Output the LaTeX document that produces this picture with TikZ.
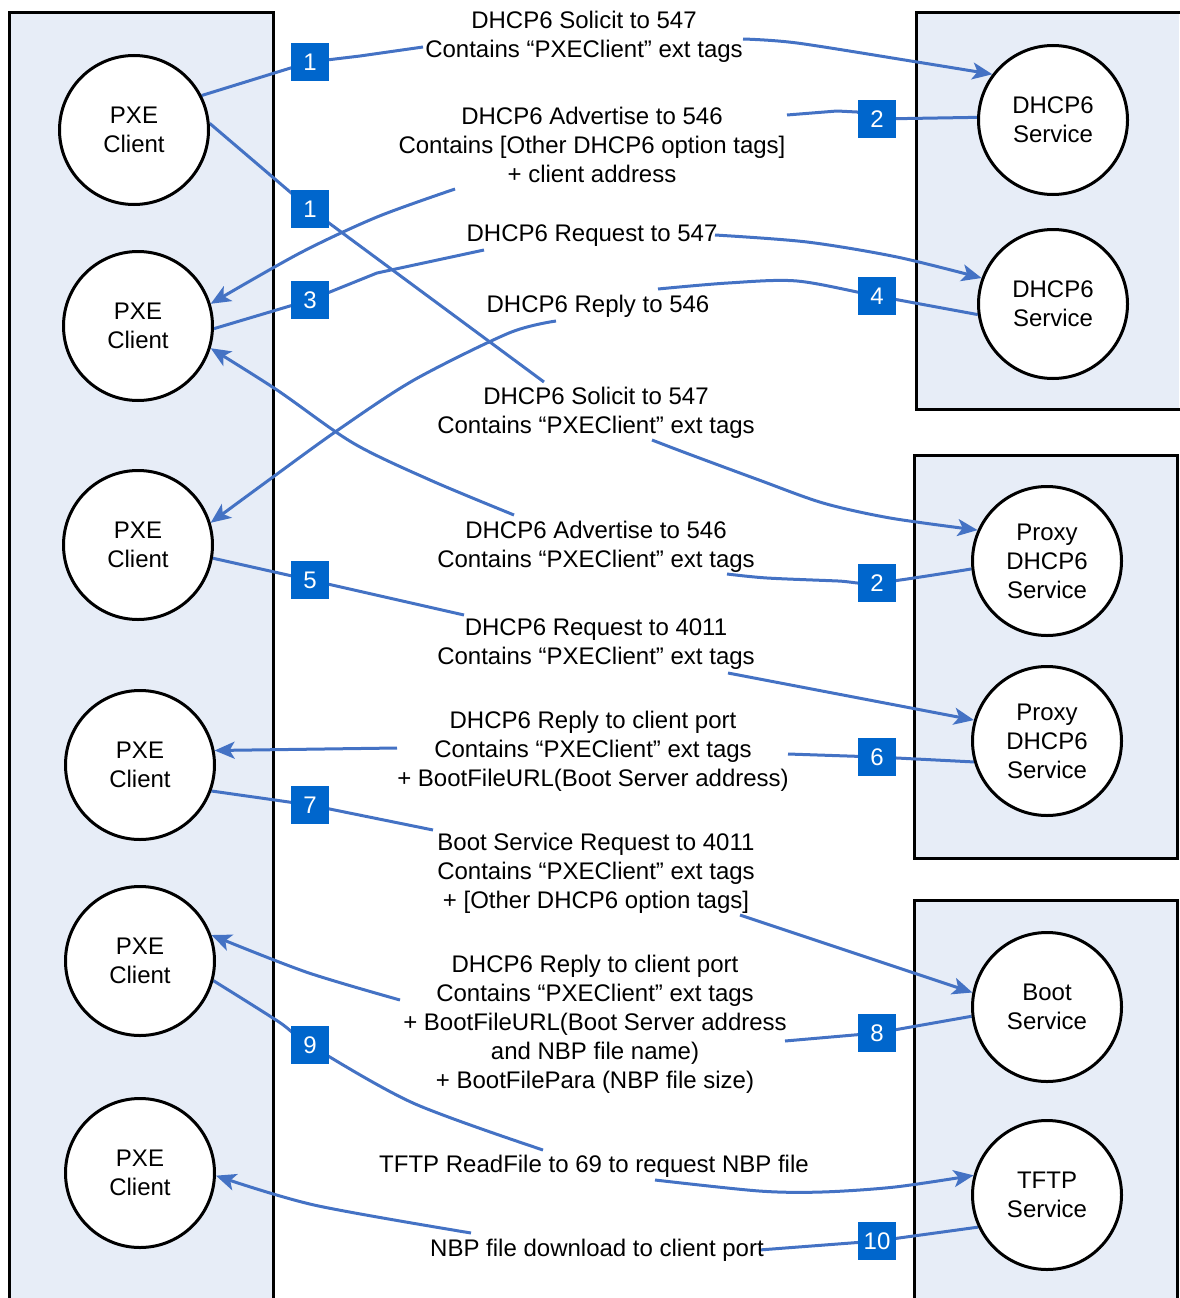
\documentclass[tikz,border=0pt]{standalone}
\usepackage{fontspec}
\setmainfont{Liberation Sans}
\usetikzlibrary{arrows.meta}
\pgfdeclarelayer{boxlayer}
\pgfdeclarelayer{linelayer}
\pgfsetlayers{boxlayer,linelayer,main}
\definecolor{boxfill}{HTML}{E7EDF7}
\definecolor{linecol}{HTML}{4472C4}
\definecolor{badgecol}{HTML}{0066CC}
\begin{document}
\begin{tikzpicture}[x=1pt,y=-1pt,
  actor/.style={circle, draw=black, line width=3pt, fill=white, minimum size=149pt,
    inner sep=0pt, align=center, font=\fontsize{24}{29}\selectfont},
  msg/.style={align=center, inner sep=0pt, anchor=north, font=\fontsize{24}{29}\selectfont},
  badge/.style={fill=badgecol, text=white, minimum size=38pt, inner sep=0pt,
    font=\fontsize{24}{24}\selectfont},
  frame/.style={draw=black, line width=3pt, fill=boxfill},
  conn/.style={draw=linecol, line width=3pt, line join=round},
  arr/.style={conn, -{Stealth[length=20pt,width=17pt,inset=5pt]}}]
\useasboundingbox (0,0) rectangle (1179,1298);

% frames
\begin{pgfonlayer}{boxlayer}
  \fill[boxfill] (9,13) rectangle (273,1298);
  \draw[black, line width=3pt] (9,1300) -- (9,13) -- (273,13) -- (273,1300);
  \fill[boxfill] (916,13) rectangle (1179,409);
  \draw[black, line width=3pt] (1181,13) -- (916,13) -- (916,409) -- (1181,409);
  \draw[frame] (914,455) rectangle (1177.5,858);
  \fill[boxfill] (914,900) rectangle (1177.5,1298);
  \draw[black, line width=3pt] (914,1300) -- (914,900) -- (1177.5,900) -- (1177.5,1300);
\end{pgfonlayer}

% client circles
\node[actor] (c1) at (134,130) {PXE\\Client};
\node[actor] (c2) at (138,326) {PXE\\Client};
\node[actor] (c3) at (138,545) {PXE\\Client};
\node[actor] (c4) at (140,765) {PXE\\Client};
\node[actor] (c5) at (140,961) {PXE\\Client};
\node[actor] (c6) at (140,1173) {PXE\\Client};

% service circles
\node[actor] (r1) at (1053,120) {DHCP6\\Service};
\node[actor] (r2) at (1053,304) {DHCP6\\Service};
\node[actor] (r3) at (1047,561) {Proxy\\DHCP6\\Service};
\node[actor] (r4) at (1047,741) {Proxy\\DHCP6\\Service};
\node[actor] (r5) at (1047,1007) {Boot\\Service};
\node[actor] (r6) at (1047,1195) {TFTP\\Service};

% badges
\node[badge] (b1)  at (310,62)   {1};
\node[badge] (b2)  at (877,119)  {2};
\node[badge] (b1b) at (310,209)  {1};
\node[badge] (b3)  at (310,300)  {3};
\node[badge] (b4)  at (877,296)  {4};
\node[badge] (b2p) at (877,583)  {2};
\node[badge] (b5)  at (310,580)  {5};
\node[badge] (b6)  at (877,757)  {6};
\node[badge] (b7)  at (310,805)  {7};
\node[badge] (b8)  at (877,1033) {8};
\node[badge] (b9)  at (310,1045) {9};
\node[badge] (b10) at (877,1241) {10};

% message labels
\node[msg] (l1)  at (584,11)   {DHCP6 Solicit to 547\\Contains “PXEClient” ext tags};
\node[msg] (l2)  at (592,107)  {DHCP6 Advertise to 546\\Contains [Other DHCP6 option tags]\\+ client address};
\node[msg] (l3)  at (592,225)  {DHCP6 Request to 547};
\node[msg] (l4)  at (598,295)  {DHCP6 Reply to 546};
\node[msg] (l5)  at (596,387)  {DHCP6 Solicit to 547\\Contains “PXEClient” ext tags};
\node[msg] (l6)  at (596,521)  {DHCP6 Advertise to 546\\Contains “PXEClient” ext tags};
\node[msg] (l7)  at (596,619)  {DHCP6 Request to 4011\\Contains “PXEClient” ext tags};
\node[msg] (l8)  at (593,711)  {DHCP6 Reply to client port\\Contains “PXEClient” ext tags\\+ BootFileURL(Boot Server address)};
\node[msg] (l9)  at (596,833)  {Boot Service Request to 4011\\Contains “PXEClient” ext tags\\+ [Other DHCP6 option tags]};
\node[msg] (l10) at (595,955)  {DHCP6 Reply to client port\\Contains “PXEClient” ext tags\\+ BootFileURL(Boot Server address\\and NBP file name)\\+ BootFilePara (NBP file size)};
\node[msg] (l11) at (594,1155) {TFTP ReadFile to 69 to request NBP file};
\node[msg] (l12) at (597,1239) {NBP file download to client port};

% free ends of the connectors, next to the labels
\coordinate (l1a) at (423,47);   \coordinate (l1b) at (743,39);
\coordinate (l2a) at (787,115);  \coordinate (l2b) at (455,189);
\coordinate (l5a) at (544,382);  \coordinate (l5b) at (652,440);
\coordinate (l3a) at (484,250);  \coordinate (l3b) at (715,235);
\coordinate (l4a) at (658,289);  \coordinate (l4b) at (556,321);
\coordinate (l6a) at (727,574);  \coordinate (l6b) at (514,515);
\coordinate (l7a) at (464,615);  \coordinate (l7b) at (728,673);
\coordinate (l8a) at (788,754);  \coordinate (l8b) at (397,748);
\coordinate (l9a) at (433,830);  \coordinate (l9b) at (740,915);
\coordinate (l10a) at (785,1041); \coordinate (l10b) at (400,1000);
\coordinate (l11a) at (543,1150); \coordinate (l11b) at (655,1180);
\coordinate (l12a) at (759,1250); \coordinate (l12b) at (471,1233);

\begin{pgfonlayer}{linelayer}
  % 1: solicit to DHCP6 service
  \draw[conn] (c1.27) -- (b1.center) -- (360,56) -- (l1a);
  \draw[arr] plot[smooth] coordinates {(l1b) (797,43) (917,62) (r1.143)};
  % 2: advertise
  \draw[conn] (r1.178) -- (b2.center) -- (857,112) -- (837,111) -- (l2a);
  \draw[arr] plot[smooth] coordinates {(l2b) (377,217) (300,253) (c2.17)};
  % 1: solicit to proxy
  \draw[conn] (c1.5) -- (b1b.center) -- (l5a);
  \draw[arr] plot[smooth] coordinates {(l5b) (686,453) (759,480) (823,503) (890,518) (r3.156)};
  % 3: request
  \draw[conn] (c2.-2) -- (b3.center) -- (377,273) -- (l3a);
  \draw[arr] plot[smooth] coordinates {(l3b) (807,242) (897,257) (r2.160)};
  % 4: reply
  \draw[conn] plot[smooth] coordinates {(r2.-172) (b4.center) (797,281) (728,283) (l4a)};
  \draw[arr] plot[smooth] coordinates {(l4b) (509,333) (414,380) (338,430) (273,477) (c3.17)};
  % 2: proxy advertise
  \draw[conn] plot[smooth] coordinates {(r3.186) (b2p.center) (838,581) (767,578) (l6a)};
  \draw[arr] plot[smooth] coordinates {(l6b) (430,480) (353,443) (277,390) (c2.-17)};
  % 5: request to 4011
  \draw[conn] (c3.-10) -- (b5.center) -- (l7a);
  \draw[arr] (l7b) -- (r4.164);
  % 6: reply from proxy
  \draw[conn] (r4.196) -- (b6.center) -- (l8a);
  \draw[arr] (l8b) -- (c4.11);
  % 7: boot service request
  \draw[conn] (c4.-20) -- (b7.center) -- (l9a);
  \draw[arr] (l9b) -- (r5.169);
  % 8: boot reply
  \draw[conn] (r5.187) -- (b8.center) -- (l10a);
  \draw[arr] plot[smooth] coordinates {(l10b) (306,972) (c5.20)};
  % 9: TFTP read
  \draw[conn] plot[smooth] coordinates {(c5.-15) (279,1022) (b9.center) (413,1103) (l11a)};
  \draw[arr] plot[smooth] coordinates {(l11b) (759,1191) (822,1192) (895,1187) (r6.165)};
  % 10: NBP download
  \draw[conn] (r6.205) -- (b10.center) -- (l12a);
  \draw[arr] plot[smooth] coordinates {(l12b) (314,1205) (c6.-2)};
\end{pgfonlayer}
\end{tikzpicture}
\end{document}
